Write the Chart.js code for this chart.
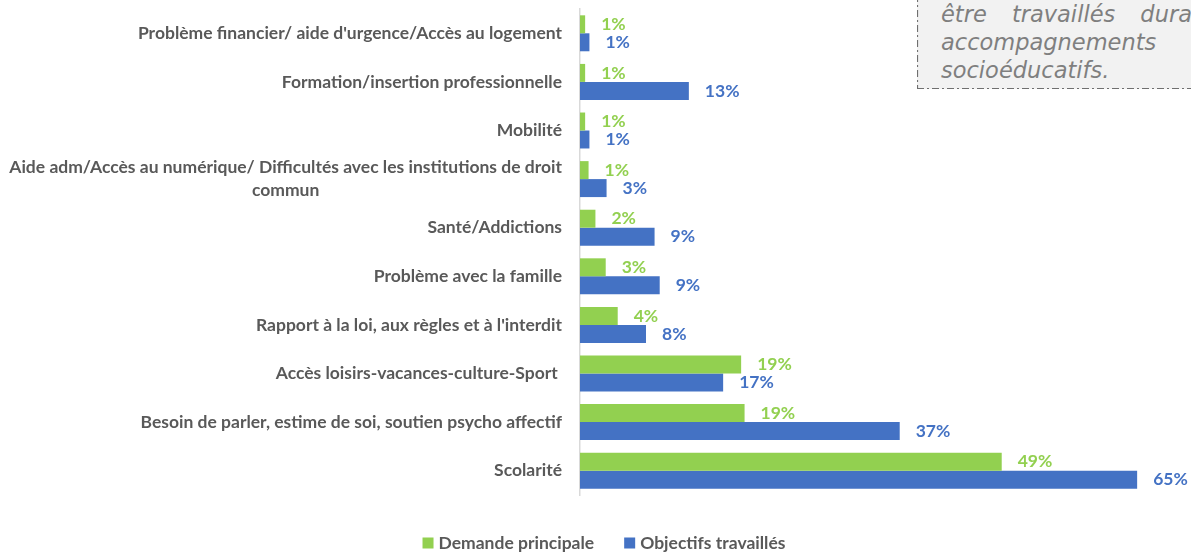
<!DOCTYPE html>
<html>
<head>
<meta charset="utf-8">
<script src="https://cdn.jsdelivr.net/npm/chart.js@4.4.0/dist/chart.umd.min.js"></script>
<style>
  html, body { margin: 0; padding: 0; background: #fff; overflow: hidden; }
  #wrap { position: relative; width: 1191px; height: 554px; overflow: hidden; }
  #c { position: absolute; left: 0; top: 0; }
  #note {
    position: absolute; left: 917px; top: -20px; width: 340px; height: 109px;
    background: #f2f2f2;
    font-family: "DejaVu Sans", sans-serif; font-style: italic; font-size: 22.5px;
    color: #7f7f7f; line-height: 28px;
  }
  #note .ln { position: absolute; left: 24px; white-space: nowrap; }
  #note svg { position: absolute; left: 0; top: 0; }
</style>
</head>
<body>
<div id="wrap">
<canvas id="c" width="1191" height="554"></canvas>
<div id="note">
  <svg width="340" height="109">
    <line x1="0.5" y1="0" x2="0.5" y2="108.5" stroke="#6f6f6f" stroke-width="1.2" stroke-dasharray="7,3,2,3"/>
    <line x1="0" y1="108.5" x2="340" y2="108.5" stroke="#6f6f6f" stroke-width="1.2" stroke-dasharray="7,3,2,3"/>
  </svg>
  <div class="ln" style="top:20px; word-spacing:18px;">être travaillés durant les</div>
  <div class="ln" style="top:48px;">accompagnements</div>
  <div class="ln" style="top:76px;">socioéducatifs.</div>
</div>
</div>
<script>
const categories = [
  "Problème financier/ aide d'urgence/Accès au logement",
  "Formation/insertion professionnelle",
  "Mobilité",
  ["Aide adm/Accès au numérique/ Difficultés avec les institutions de droit", "commun"],
  "Santé/Addictions",
  "Problème avec la famille",
  "Rapport à la loi, aux règles et à l'interdit",
  "Accès loisirs-vacances-culture-Sport ",
  "Besoin de parler, estime de soi, soutien psycho affectif",
  "Scolarité"
];
const demandePrincipale = [0.6, 0.6, 0.6, 1.0, 1.8, 3.0, 4.4, 18.8, 19.2, 49.2];
const objectifsTravailles = [1.1, 12.7, 1.1, 3.1, 8.7, 9.3, 7.7, 16.7, 37.3, 65.0];
const seriesNames = ["Demande principale", "Objectifs travaillés"];

const GREEN = '#92d050', BLUE = '#4472c4', TEXT = '#595959';
const FONT = 'Lato, "Open Sans", sans-serif';
const FSIZE = 17.5;

const yLabels = {
  id: 'yLabels',
  afterDraw(chart) {
    const ctx = chart.ctx, y = chart.scales.y;
    ctx.save();
    ctx.font = 'bold ' + FSIZE + 'px ' + FONT;
    ctx.fillStyle = TEXT;
    ctx.textBaseline = 'middle';
    const right = 562;
    categories.forEach((lab, i) => {
      const py = y.getPixelForValue(i);
      if (Array.isArray(lab)) {
        const w = Math.max(...lab.map(l => ctx.measureText(l).width));
        const cx = right - w / 2;
        const lh = 23;
        ctx.textAlign = 'center';
        lab.forEach((l, k) => ctx.fillText(l, cx, py + (k - (lab.length - 1) / 2) * lh));
      } else {
        ctx.textAlign = 'right';
        ctx.fillText(lab, right, py);
      }
    });
    ctx.restore();
  }
};

const valueLabels = {
  id: 'valueLabels',
  afterDatasetsDraw(chart) {
    const ctx = chart.ctx;
    ctx.save();
    ctx.font = 'bold ' + FSIZE + 'px ' + FONT;
    ctx.textBaseline = 'middle';
    ctx.textAlign = 'left';
    chart.data.datasets.forEach((ds, di) => {
      const meta = chart.getDatasetMeta(di);
      ctx.fillStyle = ds.backgroundColor;
      meta.data.forEach((bar, i) => {
        ctx.fillText(Math.round(ds.data[i]) + '%', bar.x + 16, bar.y);
      });
    });
    ctx.restore();
  }
};

const bottomLegend = {
  id: 'bottomLegend',
  afterDraw(chart) {
    const ctx = chart.ctx;
    ctx.save();
    ctx.font = 'bold ' + FSIZE + 'px ' + FONT;
    ctx.textBaseline = 'middle';
    ctx.textAlign = 'left';
    const box = 11, gapBox = 5, gapItem = 30, cy = 543;
    const items = chart.data.datasets.map(ds => ({ text: ds.label, color: ds.backgroundColor, w: ctx.measureText(ds.label).width }));
    const total = items.reduce((s, it) => s + box + gapBox + it.w, 0) + gapItem * (items.length - 1);
    let x = 604 - total / 2;
    items.forEach(it => {
      ctx.fillStyle = it.color;
      ctx.fillRect(x, cy - box / 2, box, box);
      ctx.fillStyle = TEXT;
      ctx.fillText(it.text, x + box + gapBox, cy);
      x += box + gapBox + it.w + gapItem;
    });
    ctx.restore();
  }
};

new Chart(document.getElementById('c'), {
  type: 'bar',
  data: {
    labels: categories,
    datasets: [
      { label: seriesNames[0], data: demandePrincipale, backgroundColor: GREEN },
      { label: seriesNames[1], data: objectifsTravailles, backgroundColor: BLUE }
    ]
  },
  options: {
    indexAxis: 'y',
    responsive: false,
    animation: false,
    maintainAspectRatio: false,
    categoryPercentage: 0.74,
    barPercentage: 1.0,
    layout: { padding: { left: 580, right: 11, top: 9, bottom: 59 } },
    scales: {
      x: { display: false, min: 0, max: 70 },
      y: {
        grid: { display: false },
        border: { display: true, color: '#d9d9d9', width: 1.5 },
        ticks: { display: false },
        afterFit(s) { s.width = 0; }
      }
    },
    plugins: {
      legend: { display: false },
      tooltip: { enabled: false }
    }
  },
  plugins: [yLabels, valueLabels, bottomLegend]
});
</script>
</body>
</html>
